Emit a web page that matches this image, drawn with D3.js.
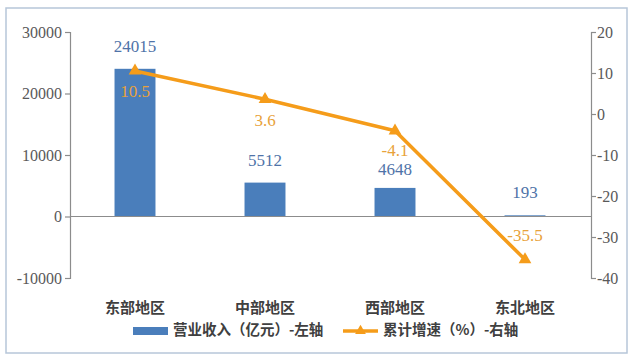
<!DOCTYPE html>
<html>
<head>
<meta charset="utf-8">
<script src="https://cdn.jsdelivr.net/npm/d3@7"></script>
<style>
  body { margin: 0; background: #fff; }
  .num { font-family: "Liberation Serif", "Times New Roman", "DejaVu Serif", serif; }
  .cjk { font-family: "Noto Sans CJK SC", sans-serif; }
</style>
</head>
<body>
<div id="chart"></div>
<script>
var regions = ["东部地区", "中部地区", "西部地区", "东北地区"];
var revenue = [24015, 5512, 4648, 193];
var growth = [10.5, 3.6, -4.1, -35.5];
var leftTicks = [-10000, 0, 10000, 20000, 30000];
var rightTicks = [-40, -30, -20, -10, 0, 10, 20];
var legendLabels = ["营业收入（亿元）-左轴", "累计增速（%）-右轴"];

var chart = { width: 634, height: 360, top: 32, bottom: 278, left: 70, right: 591 };
var barColor = "#4a7ebb";
var lineColor = "#f59c1a";

var svg = d3.select("#chart").append("svg")
  .attr("width", chart.width)
  .attr("height", chart.height);

/* frame */
svg.append("rect")
  .attr("x", 6).attr("y", 8)
  .attr("width", 621).attr("height", 345)
  .attr("fill", "#fff")
  .attr("stroke", "#b7c6d9")
  .attr("stroke-width", 1.5);

var x = d3.scaleBand()
  .domain(regions)
  .range([chart.left, chart.right - 1])
  .paddingInner(0.685)
  .paddingOuter(0.3425);

var yL = d3.scaleLinear().domain([-10000, 30000]).range([chart.bottom, chart.top]);
var yR = d3.scaleLinear().domain([-40, 20]).range([chart.bottom, chart.top]);

var leftAxis = (g) => g
  .attr("transform", `translate(${chart.left},0)`)
  .call(d3.axisLeft(yL).tickValues(leftTicks).tickSize(5).tickPadding(3).tickFormat((d) => d));

var rightAxis = (g) => g
  .attr("transform", `translate(${chart.right},0)`)
  .call(d3.axisRight(yR).tickValues(rightTicks).tickSize(5).tickPadding(1).tickFormat((d) => d));

[leftAxis, rightAxis].forEach((ax) => {
  var g = svg.append("g").call(ax).attr("font-family", null).attr("font-size", null);
  g.selectAll("path, line").attr("stroke", "#8c8c8c").attr("stroke-width", 1.2);
  g.selectAll("text")
    .attr("class", "num")
    .attr("fill", "#595959")
    .style("font-size", "16px");
});

/* bars */
svg.append("g")
  .selectAll("rect")
  .data(revenue)
  .join("rect")
  .attr("x", (d, i) => x(regions[i]))
  .attr("width", x.bandwidth())
  .attr("y", (d) => yL(Math.max(0, d)))
  .attr("height", (d) => Math.abs(yL(d) - yL(0)))
  .attr("fill", barColor);

/* zero line */
svg.append("line")
  .attr("x1", chart.left).attr("x2", chart.right)
  .attr("y1", yL(0)).attr("y2", yL(0))
  .attr("stroke", "#8c8c8c")
  .attr("stroke-width", 1.2);

/* bar labels */
var barLabelDy = [-21, -21, -17, -21];
svg.append("g")
  .selectAll("text")
  .data(revenue)
  .join("text")
  .attr("class", "num")
  .attr("x", (d, i) => x(regions[i]) + x.bandwidth() / 2)
  .attr("y", (d, i) => yL(d) + barLabelDy[i])
  .attr("text-anchor", "middle")
  .attr("dominant-baseline", "middle")
  .attr("fill", "#4f73a8")
  .style("font-size", "17px")
  .text((d) => d);

/* growth line */
var line = d3.line()
  .x((d, i) => x(regions[i]) + x.bandwidth() / 2)
  .y((d) => yR(d));

svg.append("path")
  .datum(growth)
  .attr("fill", "none")
  .attr("stroke", lineColor)
  .attr("stroke-width", 3.5)
  .attr("stroke-linejoin", "round")
  .attr("d", line);

svg.append("g")
  .selectAll("path")
  .data(growth)
  .join("path")
  .attr("transform", (d, i) => `translate(${x(regions[i]) + x.bandwidth() / 2},${yR(d)})`)
  .attr("d", d3.symbol(d3.symbolTriangle, 70))
  .attr("fill", lineColor);

/* growth labels */
var growthLabelDy = [22, 23, 21, -22];
svg.append("g")
  .selectAll("text")
  .data(growth)
  .join("text")
  .attr("class", "num")
  .attr("x", (d, i) => x(regions[i]) + x.bandwidth() / 2)
  .attr("y", (d, i) => yR(d) + growthLabelDy[i])
  .attr("text-anchor", "middle")
  .attr("dominant-baseline", "middle")
  .attr("fill", "#e8a23a")
  .style("font-size", "17px")
  .text((d) => d);

/* category labels */
svg.append("g")
  .selectAll("text")
  .data(regions)
  .join("text")
  .attr("class", "cjk")
  .attr("x", (d) => x(d) + x.bandwidth() / 2)
  .attr("y", 309)
  .attr("text-anchor", "middle")
  .attr("dominant-baseline", "middle")
  .attr("fill", "#404040")
  .style("font-weight", "bold")
  .style("font-size", "15px")
  .text((d) => d);

/* legend */
var legend = svg.append("g").attr("transform", "translate(0,331)");
legend.append("rect")
  .attr("x", 133).attr("y", -4)
  .attr("width", 35).attr("height", 8)
  .attr("fill", barColor);
legend.append("text")
  .attr("class", "cjk")
  .attr("x", 173).attr("y", 0)
  .attr("dominant-baseline", "middle")
  .attr("fill", "#404040")
  .style("font-weight", "bold")
  .style("font-size", "14.5px")
  .text(legendLabels[0]);
legend.append("line")
  .attr("x1", 343).attr("x2", 378)
  .attr("y1", 0).attr("y2", 0)
  .attr("stroke", lineColor)
  .attr("stroke-width", 3.5);
legend.append("path")
  .attr("transform", "translate(360.5,0)")
  .attr("d", d3.symbol(d3.symbolTriangle, 50))
  .attr("fill", lineColor);
legend.append("text")
  .attr("class", "cjk")
  .attr("x", 383).attr("y", 0)
  .attr("dominant-baseline", "middle")
  .attr("fill", "#404040")
  .style("font-weight", "bold")
  .style("font-size", "14.5px")
  .text(legendLabels[1]);
</script>
</body>
</html>
